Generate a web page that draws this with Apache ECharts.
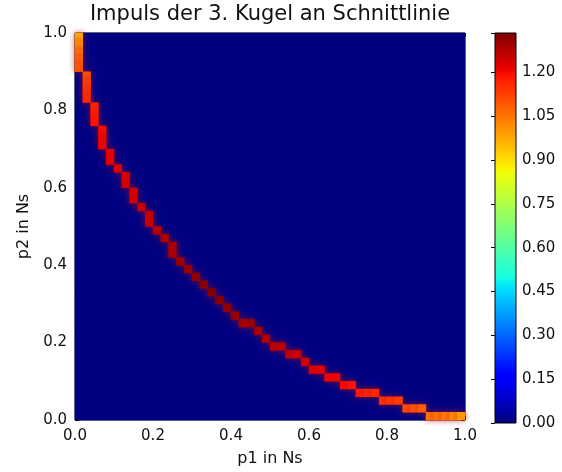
<!DOCTYPE html>
<html><head><meta charset="utf-8">
<script src="https://cdn.jsdelivr.net/npm/echarts@6/dist/echarts.min.js"></script>
<style>html,body{margin:0;padding:0;background:#fff}#c{width:562px;height:472px}</style>
</head><body><div id="c"></div>
<script>
// ---- data ----
const chartTitle = 'Impuls der 3. Kugel an Schnittlinie';
const xName = 'p1 in Ns';
const yName = 'p2 in Ns';
const nCells = 50;                 // grid resolution (cells per axis)
const axisMin = 0, axisMax = 1, axisStep = 0.2;
const cbMin = 0, cbMax = 1.335, cbStep = 0.15;
// cells on the intersection line (column index, row index, value); all other cells are 0
const curveCol = [0,0,0,0,0,1,1,1,1,2,2,2,3,3,3,4,4,5,6,6,7,7,8,9,9,10,11,12,12,13,14,15,16,17,18,19,20,21,22,23,24,25,26,27,28,29,30,31,32,33,34,35,36,37,38,39,40,41,42,43,44,45,46,47,48,49];
const curveRow = [49,48,47,46,45,44,43,42,41,40,39,38,37,36,35,34,33,32,31,30,29,28,27,26,25,24,23,22,21,20,19,18,17,16,15,14,13,12,12,11,10,9,9,8,8,7,6,6,5,5,4,4,3,3,3,2,2,2,1,1,1,0,0,0,0,0];
const curveVal = [0.98,1.02,1.06,1.08,1.10,1.11,1.13,1.15,1.16,1.17,1.18,1.19,1.20,1.21,1.21,1.22,1.22,1.23,1.23,1.24,1.24,1.25,1.25,1.26,1.26,1.27,1.28,1.29,1.29,1.30,1.31,1.32,1.33,1.335,1.33,1.32,1.31,1.30,1.30,1.29,1.28,1.27,1.27,1.26,1.25,1.24,1.23,1.22,1.21,1.21,1.20,1.19,1.18,1.17,1.16,1.15,1.14,1.13,1.11,1.10,1.08,1.06,1.05,1.04,1.02,1.00];

// ---- build heatmap tables ----
const cats = Array.from({length: nCells}, (_, i) => String(i));
const onCurve = {};
curveCol.forEach((c, k) => { onCurve[c + '_' + curveRow[k]] = true; });
const zeroCells = [];
for (let r = 0; r < nCells; r++) {
  for (let c = 0; c < nCells; c++) {
    if (!onCurve[c + '_' + r]) zeroCells.push([c, r, 0]);
  }
}
const curveCells = curveCol.map((c, k) => [c, curveRow[k], curveVal[k]]);

// ---- jet colormap ----
const jetStops = [
  [0, [0,0,128]], [0.11, [0,0,255]], [0.125, [0,0,255]], [0.34, [0,219,255]],
  [0.35, [0,229,247]], [0.375, [21,255,226]], [0.64, [239,255,8]], [0.65, [247,245,0]],
  [0.66, [255,236,0]], [0.89, [255,19,0]], [0.91, [232,0,0]], [1, [128,0,0]]
];
function jet(t) {
  for (let i = 1; i < jetStops.length; i++) {
    const [t1, c1] = jetStops[i], [t0, c0] = jetStops[i-1];
    if (t <= t1) {
      const f = (t - t0) / (t1 - t0 || 1);
      return 'rgb(' + c0.map((x, j) => Math.round(x + (c1[j] - x) * f)).join(',') + ')';
    }
  }
  return 'rgb(128,0,0)';
}
const jetColors = Array.from({length: 201}, (_, i) => jet(i / 200));
const gradStops = jetStops.map(([t, c]) => ({offset: t, color: 'rgb(' + c.join(',') + ')'}));

const FONT = 'DejaVu Sans';
const TXT = '#111';
const PL = 75, PT = 33, PW = 390, PH = 390;
const CBL = 495, CBW = 21;

const chart = echarts.init(document.getElementById('c'), null, {renderer: 'canvas'});
const valAxisCommon = {
  type: 'value', min: axisMin, max: axisMax, interval: axisStep, gridIndex: 0,
  splitLine: {show: false},
  axisLine: {show: false, onZero: false},
  axisTick: {show: true, inside: true, length: 4, lineStyle: {color: '#000', width: 1}}
};
chart.setOption({
  animation: false,
  backgroundColor: '#fff',
  title: {
    text: chartTitle, left: PL + PW / 2, top: 4, textAlign: 'center', padding: 0,
    textStyle: {fontFamily: FONT, fontSize: 21, fontWeight: 'normal', color: TXT}
  },
  grid: [
    {left: PL, top: PT, width: PW, height: PH, show: true, borderColor: '#000', borderWidth: 1, backgroundColor: '#000080', z: 3},
    {left: CBL, top: PT, width: CBW, height: PH, show: true, borderColor: '#000', borderWidth: 1, backgroundColor: 'transparent', z: 5}
  ],
  xAxis: [
    {type: 'category', data: cats, gridIndex: 0, show: false},
    Object.assign({}, valAxisCommon, {
      position: 'bottom', name: xName, nameLocation: 'middle', nameGap: 31,
      nameTextStyle: {fontFamily: FONT, fontSize: 16, color: TXT},
      axisLabel: {margin: 9, fontFamily: FONT, fontSize: 15, color: TXT, formatter: v => v.toFixed(1)}
    }),
    Object.assign({}, valAxisCommon, {position: 'top', axisLabel: {show: false}}),
    {type: 'value', gridIndex: 1, show: false, min: 0, max: 1}
  ],
  yAxis: [
    {type: 'category', data: cats, gridIndex: 0, show: false},
    Object.assign({}, valAxisCommon, {
      position: 'left', name: yName, nameLocation: 'middle', nameGap: 42,
      nameTextStyle: {fontFamily: FONT, fontSize: 16, color: TXT},
      axisLabel: {margin: 8, fontFamily: FONT, fontSize: 15, color: TXT, formatter: v => v.toFixed(1)}
    }),
    Object.assign({}, valAxisCommon, {position: 'right', axisLabel: {show: false}}),
    {
      type: 'value', gridIndex: 1, position: 'right', min: cbMin, max: cbMax, interval: cbStep,
      splitLine: {show: false}, axisLine: {show: false},
      axisTick: {show: true, inside: true, length: 4, lineStyle: {color: '#000'}},
      axisLabel: {margin: 6, fontFamily: FONT, fontSize: 15, color: TXT,
        formatter: v => (v > 1.25 ? '' : v.toFixed(2))}
    }
  ],
  visualMap: {
    show: false, type: 'continuous', min: cbMin, max: cbMax, dimension: 2, seriesIndex: [0, 1],
    inRange: {color: jetColors}
  },
  graphic: [{
    type: 'rect', left: CBL, top: PT, z: 1,
    shape: {width: CBW, height: PH},
    style: {fill: new echarts.graphic.LinearGradient(0, 1, 0, 0, gradStops)}
  }],
  series: [
    {
      type: 'heatmap', xAxisIndex: 0, yAxisIndex: 0, data: zeroCells,
      itemStyle: {borderWidth: 0}, emphasis: {disabled: true}, z: 4
    },
    {
      type: 'heatmap', xAxisIndex: 0, yAxisIndex: 0, data: curveCells,
      itemStyle: {borderWidth: 0, shadowBlur: 6, shadowColor: 'rgba(190,10,20,0.7)'},
      emphasis: {disabled: true}, z: 5
    }
  ]
});
</script></body></html>
